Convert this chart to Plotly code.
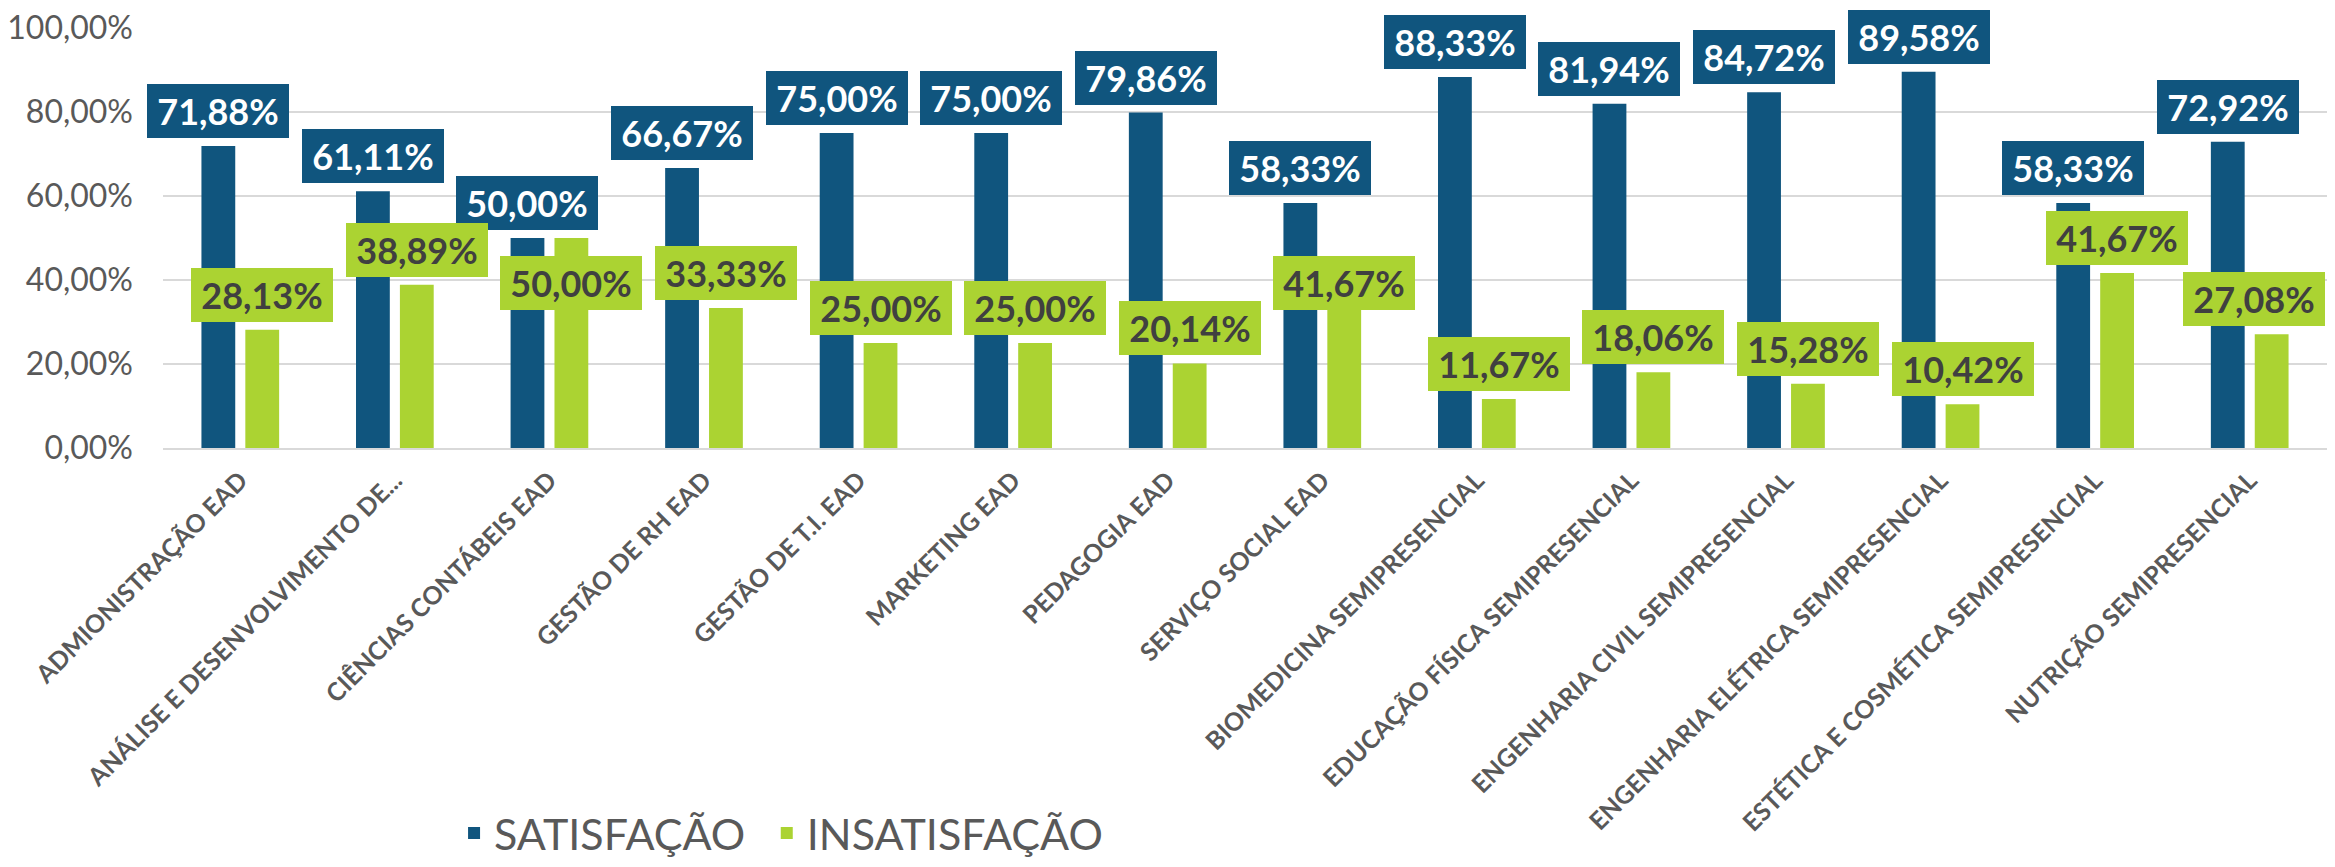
import plotly.graph_objects as go

categories = [
    "ADMIONISTRAÇÃO EAD",
    "ANÁLISE E DESENVOLVIMENTO DE...",
    "CIÊNCIAS CONTÁBEIS EAD",
    "GESTÃO DE RH EAD",
    "GESTÃO DE T.I. EAD",
    "MARKETING EAD",
    "PEDAGOGIA EAD",
    "SERVIÇO SOCIAL EAD",
    "BIOMEDICINA SEMIPRESENCIAL",
    "EDUCAÇÃO FÍSICA SEMIPRESENCIAL",
    "ENGENHARIA CIVIL SEMIPRESENCIAL",
    "ENGENHARIA ELÉTRICA SEMIPRESENCIAL",
    "ESTÉTICA E COSMÉTICA SEMIPRESENCIAL",
    "NUTRIÇÃO SEMIPRESENCIAL",
]
satisfacao = [71.88, 61.11, 50.00, 66.67, 75.00, 75.00, 79.86, 58.33, 88.33, 81.94, 84.72, 89.58, 58.33, 72.92]
insatisfacao = [28.13, 38.89, 50.00, 33.33, 25.00, 25.00, 20.14, 41.67, 11.67, 18.06, 15.28, 10.42, 41.67, 27.08]
series_names = ["SATISFAÇÃO", "INSATISFAÇÃO"]

BLUE = "#10557E"
GREEN = "#ABD332"
GRAY = "#595959"
GRID = "#D9D9D9"

# label placement (style): default gap above bar, and a few labels Excel moved
DEFAULT_SHIFT = 8
shift_override = {(1, 2): -72, (1, 7): -37}
xshift_extra = {(1, 13): -18}

fig = go.Figure()
fig.add_trace(go.Bar(x=categories, y=[v / 100 for v in satisfacao], name=series_names[0],
                     marker=dict(color=BLUE, line=dict(width=0)), legend="legend"))
fig.add_trace(go.Bar(x=categories, y=[v / 100 for v in insatisfacao], name=series_names[1],
                     marker=dict(color=GREEN, line=dict(width=0)), legend="legend2"))


def fmt(v):
    return f"{v:.2f}".replace(".", ",") + "%"


annotations = []
for s, (vals, bg, fc, dx) in enumerate([(satisfacao, BLUE, "#FFFFFF", -22),
                                         (insatisfacao, GREEN, "#404040", 22)]):
    for i, (c, v) in enumerate(zip(categories, vals)):
        annotations.append(dict(
            x=c, xref="x", y=v / 100, yref="y",
            xshift=dx + xshift_extra.get((s, i), 0),
            yshift=shift_override.get((s, i), DEFAULT_SHIFT),
            xanchor="center", yanchor="bottom",
            text=fmt(v), showarrow=False,
            font=dict(family="Lato", size=36, color=fc, weight="bold"),
            bgcolor=bg, borderpad=4, borderwidth=0,
            width=134, height=46,
        ))

legend_style = dict(orientation="h", xanchor="left", y=-0.917, yanchor="middle",
                    font=dict(family="Lato", size=43, color=GRAY),
                    itemwidth=30, bgcolor="rgba(0,0,0,0)")

# page body has an 8px default margin; the figure is sized to fit the window
fig.update_layout(
    width=2319, height=851,
    margin=dict(l=155, r=0, t=20, b=411, autoexpand=False),
    paper_bgcolor="white", plot_bgcolor="white",
    separators=",.",
    barmode="group", bargap=0.432, bargroupgap=0.23,
    font=dict(family="Lato", color=GRAY),
    annotations=annotations,
    showlegend=True,
    legend=dict(x=0.1345, **legend_style),
    legend2=dict(x=0.279, **legend_style),
)
fig.update_xaxes(
    type="category", range=[-0.5, len(categories) - 0.5], autorange=False,
    tickangle=-45, showgrid=False, automargin=False,
    showline=True, linecolor=GRID, linewidth=2, ticks="",
    tickfont=dict(family="Lato", size=25, color=GRAY, weight="bold"),
    ticklabelstandoff=6,
)
fig.update_yaxes(
    range=[0, 1.0], autorange=False, dtick=0.2, tickformat=".2%", automargin=False,
    showgrid=True, gridcolor=GRID, gridwidth=2, zeroline=False,
    showline=False, ticks="", ticklabeloverflow="allow",
    tickfont=dict(family="Lato", size=32, color=GRAY),
    ticklabelstandoff=29,
)
for tr in fig.data:
    tr.cliponaxis = False

fig.write_html("out.html")
